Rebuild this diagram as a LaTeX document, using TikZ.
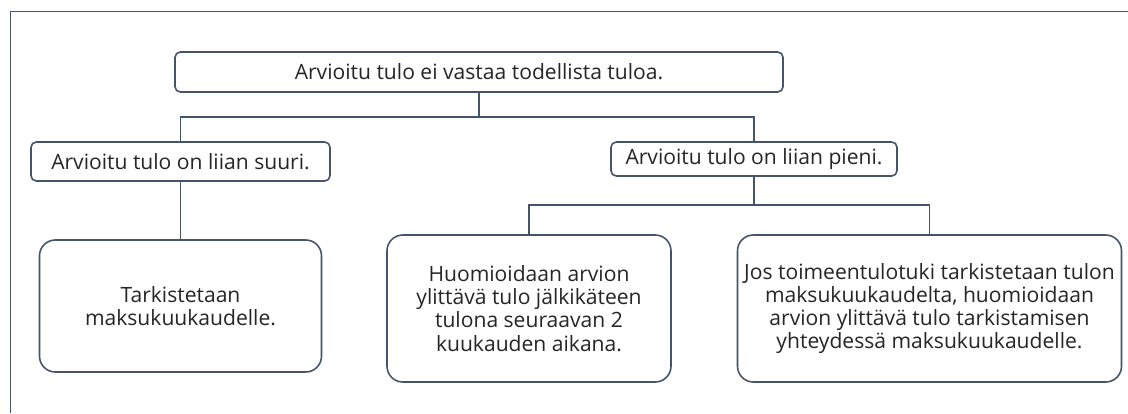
\documentclass[tikz,border=0pt]{standalone}
\usepackage{fontspec}
\setmainfont{Open Sans}
\usepackage{tikz}
\definecolor{framecol}{HTML}{44546A}
\definecolor{txtcol}{HTML}{262626}
\tikzset{
    casebox/.style={draw=framecol,line width=0.9pt,rounded corners=3pt,fill=white,
        text=txtcol,font=\fontsize{12}{12}\selectfont,inner sep=0pt},
    resultbox/.style={casebox,rounded corners=9pt,align=center,font=\fontsize{12}{13.2}\selectfont},
    link/.style={draw=framecol,line width=0.9pt}
}

\begin{document}
\begin{tikzpicture}[x=0.02cm,y=-0.02cm]
    \useasboundingbox (0,0) rectangle (1128,413);

    % Frame
    \draw[framecol,line width=0.8pt] (10.5,413) -- (10.5,11.5) -- (1128,11.5);

    % Main question
    \node[casebox,minimum width=608*0.02cm,minimum height=40*0.02cm] (arvio) at (479,72)
        {Arvioitu tulo ei vastaa todellista tuloa.};

    % Two cases
    \node[casebox,minimum width=299*0.02cm,minimum height=39*0.02cm] (suuri) at (180.5,161.5)
        {Arvioitu tulo on liian suuri.};
    \node[casebox,minimum width=286*0.02cm,minimum height=34*0.02cm] (pieni) at (754,159)
        {Arvioitu tulo on liian pieni.};

    % Results
    \node[resultbox,minimum width=282*0.02cm,minimum height=132*0.02cm] (tarkistus) at (180.5,306)
        {Tarkistetaan\\maksukuukaudelle.};
    \node[resultbox,minimum width=284*0.02cm,minimum height=147*0.02cm] (jalki) at (529,308.5)
        {Huomioidaan arvion\\ylittävä tulo jälkikäteen\\tulona seuraavan 2\\kuukauden aikana.};
    \node[resultbox,minimum width=384*0.02cm,minimum height=147*0.02cm] (maksu) at (929.5,308.5)
        {Jos toimeentulotuki tarkistetaan tulon\\maksukuukaudelta, huomioidaan\\arvion ylittävä tulo tarkistamisen\\yhteydessä maksukuukaudelle.};

    % Branch points
    \coordinate (top) at (479,117);
    \coordinate (low) at (754,205);

    % Connectors
    \draw[link] (arvio.south) -- (top);
    \draw[link] (suuri.north) |- (top) -| (pieni.north);
    \draw[link] (suuri.south) -- (tarkistus.north);
    \draw[link] (pieni.south) -- (low);
    \draw[link] (jalki.north) |- (low) -| (maksu.north);
\end{tikzpicture}
\end{document}
